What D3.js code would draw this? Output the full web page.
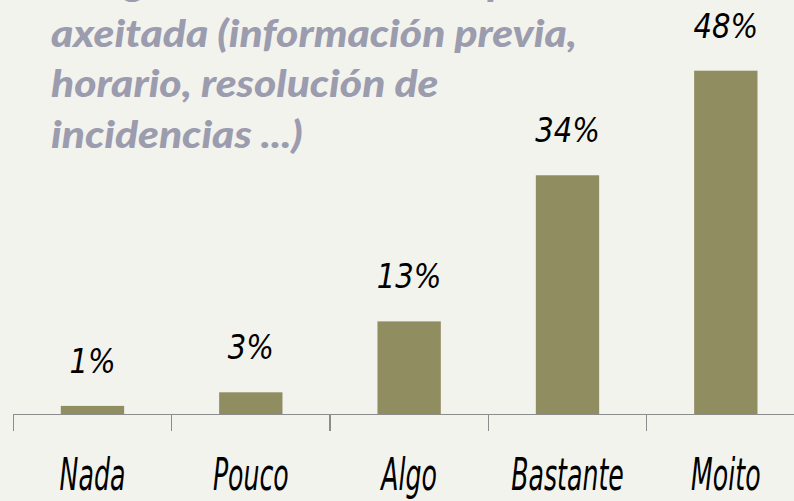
<!DOCTYPE html>
<html><head><meta charset="utf-8">
<script src="https://cdn.jsdelivr.net/npm/d3@7"></script>
<style>html,body{margin:0;padding:0;background:#f3f3ee;overflow:hidden}</style>
</head><body>
<svg id="c" width="794" height="501"></svg>
<script>
const categories = ["Nada", "Pouco", "Algo", "Bastante", "Moito"];
const values = [1.2, 3.1, 13.0, 33.4, 48.0];
const valueLabels = ["1%", "3%", "13%", "34%", "48%"];
const titleLines = [
  "A organización do curso pareceulle",
  "axeitada (información previa,",
  "horario, resolución de",
  "incidencias ...)"
];

const W = 794, H = 501;
const svg = d3.select("#c");
svg.append("rect").attr("width", W).attr("height", H).attr("fill", "#f3f3ee");

const x = d3.scaleBand().domain(categories).range([13.3, 805]).paddingInner(0.6).paddingOuter(0.3);
const y = d3.scaleLinear().domain([0, 48]).range([414.5, 70.7]);
const gapHalf = (x.step() - x.bandwidth()) / 2;

// Title
const title = svg.append("g");
const tl = title.selectAll("text").data(titleLines).join("text")
  .attr("x", 51)
  .attr("y", (d, i) => -4 + i * 50.5)
  .attr("font-family", "Lato, 'DejaVu Sans', sans-serif")
  .attr("font-weight", 900)
  .attr("font-style", "italic")
  .attr("font-size", 38)
  .attr("fill", "#9c9caf")
  .text(d => d);
const l1 = tl.nodes()[1].getComputedTextLength();
const k = 526 / l1;
tl.each(function () {
  const len = this.getComputedTextLength();
  d3.select(this).attr("textLength", len * k).attr("lengthAdjust", "spacingAndGlyphs");
});

// Bars
svg.append("g").selectAll("rect").data(values).join("rect")
  .attr("x", (d, i) => x(categories[i]))
  .attr("width", x.bandwidth())
  .attr("y", d => y(d))
  .attr("height", d => y(0) - y(d))
  .attr("fill", "#908d61");

// Axis
const axis = svg.append("g").attr("stroke", "#8c8c8c").attr("stroke-width", 1.2).attr("shape-rendering", "crispEdges");
axis.append("line").attr("x1", x.range()[0]).attr("x2", W).attr("y1", y(0)).attr("y2", y(0));
axis.selectAll("line.tick").data(categories).join("line").attr("class", "tick")
  .attr("x1", d => x(d) - gapHalf).attr("x2", d => x(d) - gapHalf)
  .attr("y1", y(0)).attr("y2", y(0) + 16);

// Value labels
const vl = svg.append("g").selectAll("text").data(values).join("text")
  .attr("transform", (d, i) => `translate(${x(categories[i]) + x.bandwidth() / 2},${y(d) - 33}) scale(1,1.15)`)
  .attr("text-anchor", "middle")
  .attr("font-family", "'DejaVu Sans', sans-serif")
  .attr("font-weight", 200)
  .attr("font-style", "italic")
  .attr("font-size", 30)
  .attr("fill", "#000")
  .text((d, i) => valueLabels[i]);
vl.each(function () {
  const len = this.getComputedTextLength();
  d3.select(this).attr("textLength", len * 0.97).attr("lengthAdjust", "spacingAndGlyphs");
});

// Category labels
const cl = svg.append("g").selectAll("text").data(categories).join("text")
  .attr("transform", d => `translate(${x(d) + x.bandwidth() / 2},490) scale(1,1.27)`)
  .attr("text-anchor", "middle")
  .attr("font-family", "'DejaVu Sans', sans-serif")
  .attr("font-weight", 200)
  .attr("font-style", "italic")
  .attr("font-size", 35)
  .attr("fill", "#000")
  .text(d => d);
cl.each(function () {
  const len = this.getComputedTextLength();
  d3.select(this).attr("textLength", len * 0.72).attr("lengthAdjust", "spacingAndGlyphs");
});
</script>
</body></html>
